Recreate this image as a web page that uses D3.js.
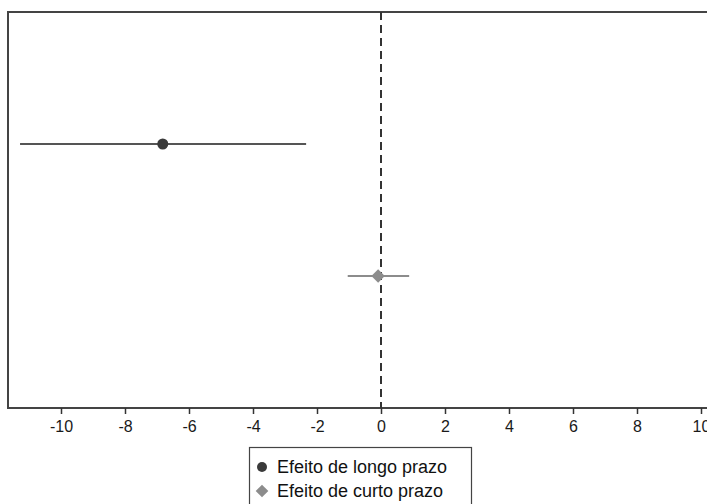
<!DOCTYPE html>
<html>
<head>
<meta charset="utf-8">
<script src="https://cdn.jsdelivr.net/npm/d3@7"></script>
<style>
  body { margin: 0; background: #fff; }
  svg { display: block; font-family: "Liberation Sans", Arial, sans-serif; }
</style>
</head>
<body>
<div id="chart"></div>
<script>
// data
var series = ["Efeito de longo prazo", "Efeito de curto prazo"];
var estimates = [-6.82, -0.09];
var lower = [-11.28, -1.04];
var upper = [-2.34, 0.88];
var xTicks = [-10, -8, -6, -4, -2, 0, 2, 4, 6, 8, 10];

var w = 707, h = 504;
var frameLeft = 8, frameTop = 12, frameBottom = 408;

var svg = d3.select("#chart").append("svg")
    .attr("width", w)
    .attr("height", h);

var xScale = d3.scaleLinear()
    .domain([-10, 10])
    .range([61, 701]);

// positions 1 and 2 on a 0..3 scale
var yScale = d3.scaleLinear()
    .domain([0, 3])
    .range([frameTop, frameBottom]);

// plot frame (right side runs off the image)
svg.append("rect")
    .attr("x", frameLeft)
    .attr("y", frameTop)
    .attr("width", 760)
    .attr("height", frameBottom - frameTop)
    .attr("fill", "none")
    .attr("stroke", "#444")
    .attr("stroke-width", 2);

// x axis
var xAxis = d3.axisBottom(xScale)
    .tickValues(xTicks)
    .tickSize(6)
    .tickPadding(7)
    .tickFormat(d3.format("d"));

var gx = svg.append("g")
    .attr("transform", "translate(0," + frameBottom + ")")
    .call(xAxis);
gx.select(".domain").remove();
gx.selectAll("line").attr("stroke", "#333").attr("stroke-width", 1.5);
gx.selectAll("text")
    .attr("fill", "#1a1a1a")
    .style("font-size", "16px")
    .text(function (d) { return d < 0 ? "-" + Math.abs(d) : d; });

// zero reference line
svg.append("line")
    .attr("x1", xScale(0)).attr("x2", xScale(0))
    .attr("y1", frameTop).attr("y2", frameBottom)
    .attr("stroke", "#333")
    .attr("stroke-width", 2)
    .attr("stroke-dasharray", "8,5");

var colors = ["#3a3a3a", "#8c8c8c"];
var lineColors = ["#555", "#8c8c8c"];

// confidence intervals
series.forEach(function (s, i) {
    svg.append("line")
        .attr("x1", xScale(lower[i]))
        .attr("x2", xScale(upper[i]))
        .attr("y1", yScale(i + 1))
        .attr("y2", yScale(i + 1))
        .attr("stroke", lineColors[i])
        .attr("stroke-width", 2);
});

// markers
svg.append("circle")
    .attr("cx", xScale(estimates[0]))
    .attr("cy", yScale(1))
    .attr("r", 5.5)
    .attr("fill", colors[0]);

svg.append("path")
    .attr("d", d3.symbol().type(d3.symbolSquare).size(90))
    .attr("transform", "translate(" + xScale(estimates[1]) + "," + yScale(2) + ") rotate(45)")
    .attr("fill", colors[1]);

// legend
var legend = svg.append("g");
legend.append("rect")
    .attr("x", 249.5)
    .attr("y", 447.5)
    .attr("width", 222)
    .attr("height", 70)
    .attr("fill", "#fff")
    .attr("stroke", "#444")
    .attr("stroke-width", 1.2);

legend.append("circle")
    .attr("cx", 262)
    .attr("cy", 467)
    .attr("r", 5)
    .attr("fill", colors[0]);

legend.append("path")
    .attr("d", d3.symbol().type(d3.symbolSquare).size(80))
    .attr("transform", "translate(262,491) rotate(45)")
    .attr("fill", colors[1]);

legend.selectAll("text.item")
    .data(series)
    .enter()
    .append("text")
    .attr("class", "item")
    .attr("x", 277)
    .attr("y", function (d, i) { return 473 + i * 24; })
    .attr("fill", "#111")
    .style("font-size", "18px")
    .text(function (d) { return d; });
</script>
</body>
</html>
